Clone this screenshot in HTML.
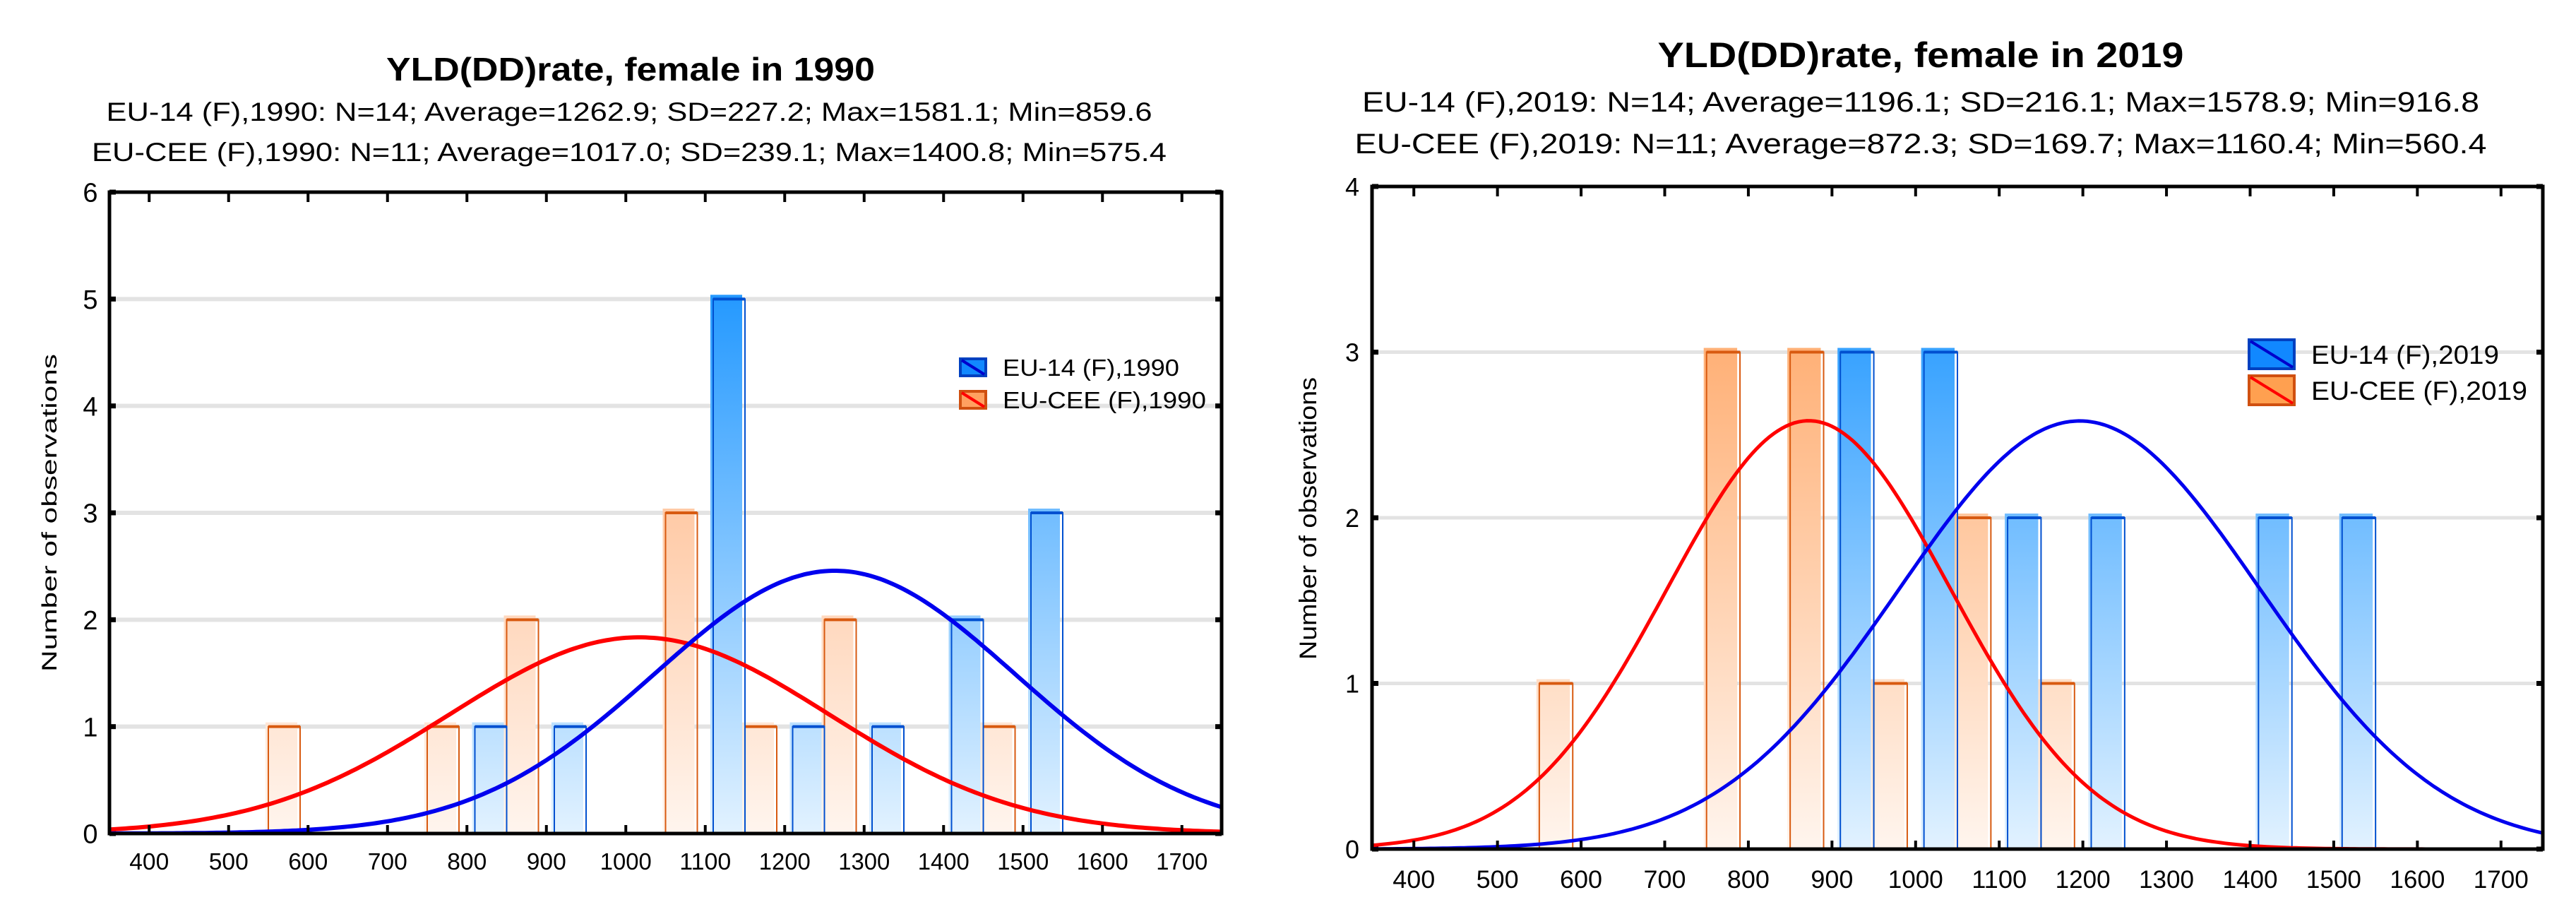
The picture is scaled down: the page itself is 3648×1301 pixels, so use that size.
<!DOCTYPE html>
<html><head><meta charset="utf-8"><style>
html,body{margin:0;padding:0;background:#fff;}
svg{display:block;}
text{font-family:"Liberation Sans",Arial,sans-serif;fill:#000;}
</style></head><body>
<svg id="chart" width="3648" height="1301" viewBox="0 0 3648 1301" xmlns="http://www.w3.org/2000/svg">
<defs>
<linearGradient id="blueL" gradientUnits="userSpaceOnUse" x1="0" y1="272" x2="0" y2="1180"><stop offset="0" stop-color="#0088ff"/><stop offset="1" stop-color="#e2f2ff"/></linearGradient>
<linearGradient id="orangeL" gradientUnits="userSpaceOnUse" x1="0" y1="272" x2="0" y2="1180"><stop offset="0" stop-color="#ffa060"/><stop offset="1" stop-color="#fff5ee"/></linearGradient>
<linearGradient id="blueR" gradientUnits="userSpaceOnUse" x1="0" y1="264" x2="0" y2="1202"><stop offset="0" stop-color="#0088ff"/><stop offset="1" stop-color="#e2f2ff"/></linearGradient>
<linearGradient id="orangeR" gradientUnits="userSpaceOnUse" x1="0" y1="264" x2="0" y2="1202"><stop offset="0" stop-color="#ff9a50"/><stop offset="1" stop-color="#fff5ee"/></linearGradient>
<clipPath id="clipL"><rect x="155" y="272" width="1575" height="908"/></clipPath>
<clipPath id="clipR"><rect x="1943" y="264" width="1658" height="938"/></clipPath>
</defs>
<text x="893" y="114" font-size="46" font-weight="bold" text-anchor="middle" textLength="692" lengthAdjust="spacingAndGlyphs">YLD(DD)rate, female in 1990</text>
<text x="891" y="171" font-size="37" text-anchor="middle" textLength="1481" lengthAdjust="spacingAndGlyphs">EU-14 (F),1990: N=14; Average=1262.9; SD=227.2; Max=1581.1; Min=859.6</text>
<text x="891" y="228" font-size="37" text-anchor="middle" textLength="1522" lengthAdjust="spacingAndGlyphs">EU-CEE (F),1990: N=11; Average=1017.0; SD=239.1; Max=1400.8; Min=575.4</text>
<text x="2720" y="95" font-size="50" font-weight="bold" text-anchor="middle" textLength="745" lengthAdjust="spacingAndGlyphs">YLD(DD)rate, female in 2019</text>
<text x="2720" y="158" font-size="40" text-anchor="middle" textLength="1582" lengthAdjust="spacingAndGlyphs">EU-14 (F),2019: N=14; Average=1196.1; SD=216.1; Max=1578.9; Min=916.8</text>
<text x="2720" y="217" font-size="40" text-anchor="middle" textLength="1603" lengthAdjust="spacingAndGlyphs">EU-CEE (F),2019: N=11; Average=872.3; SD=169.7; Max=1160.4; Min=560.4</text>
<text transform="translate(80,726) rotate(-90)" font-size="30" text-anchor="middle" textLength="450" lengthAdjust="spacingAndGlyphs">Number of observations</text>
<text transform="translate(1864,734) rotate(-90)" font-size="34" text-anchor="middle" textLength="400" lengthAdjust="spacingAndGlyphs">Number of observations</text>
<g id="layer"></g>
</svg>
<script>
const xTicks = [400,500,600,700,800,900,1000,1100,1200,1300,1400,1500,1600,1700];
const yTicksLeft = [0,1,2,3,4,5,6];
const yTicksRight = [0,1,2,3,4];
const ceeBins1990 = [570,770,870,1070,1170,1270,1470];
const ceeCounts1990 = [1,1,2,3,1,2,1];
const eu14Bins1990 = [830,930,1130,1230,1330,1430,1530];
const eu14Counts1990 = [1,1,5,1,1,2,3];
const ceeBins2019 = [570,770,870,970,1070,1170];
const ceeCounts2019 = [1,3,3,1,2,1];
const eu14Bins2019 = [930,1030,1130,1230,1430,1530];
const eu14Counts2019 = [3,3,2,2,2,2];
const eu14Fit1990 = [14,1262.9,227.2];
const ceeFit1990 = [11,1017.0,239.1];
const eu14Fit2019 = [14,1196.1,216.1];
const ceeFit2019 = [11,872.3,169.7];

const NS='http://www.w3.org/2000/svg';
const layer=document.getElementById('layer');
function mk(tag,attrs,parent){const e=document.createElementNS(NS,tag);for(const k in attrs)e.setAttribute(k,attrs[k]);(parent||layer).appendChild(e);return e;}

function drawChart(c){
  const g=mk('g',{});
  
  
  const sx=v=>c.x0+(v-350)/(1750-350)*(c.x1-c.x0);
  const sy=v=>c.y1-v/c.ymax*(c.y1-c.y0);
  // grid
  c.yTicks.forEach(t=>{
    if(t>0&&t<c.ymax){const l=mk('line',{x1:c.x0,x2:c.x1,y1:sy(t),y2:sy(t),stroke:'#e3e3e3','stroke-width':c.grid},g);
      
      }
    const tk=mk('line',{x1:c.x0,x2:c.x0+9,y1:sy(t),y2:sy(t),stroke:'#000','stroke-width':7},g);
    
    
    const tk2=mk('line',{x1:c.x1-9,x2:c.x1,y1:sy(t),y2:sy(t),stroke:'#000','stroke-width':7},g);
    
    
    const lb=mk('text',{x:c.ylx,y:sy(t)+c.yfs*0.36,'font-size':c.yfs,'text-anchor':'middle'},g);
    lb.textContent=t;
    
    
  });
  const bw=40;
  function bars(bins,counts,fill,stroke,nm){
    bins.forEach((b,i)=>{
      const x=sx(b-bw/2), w=sx(b+bw/2)-x, y=sy(counts[i]);
      const f=mk('rect',{x:x-4,y:y-6,width:w,height:c.y1-y+6,fill:fill},g);
      
      
      const o=mk('rect',{x:x,y:y,width:w,height:c.y1-y,fill:'none',stroke:stroke,'stroke-width':2},g);
      
      
      const tp=mk('line',{x1:x,x2:x+w,y1:y,y2:y,stroke:stroke,'stroke-width':4},g);
      
      
    });
  }
  bars(c.ceeBins,c.ceeCounts,c.oFill,'#d85a10','bar-eu-cee');
  bars(c.euBins,c.euCounts,c.bFill,'#0050d0','bar-eu-14');
  function curve(fit,col,nm){
    let d='';
    for(let v=350;v<=1750;v+=5){
      const y=fit[0]*100/(fit[2]*Math.sqrt(2*Math.PI))*Math.exp(-0.5*((v-fit[1])/fit[2])**2);
      d+=(v===350?'M':'L')+sx(v).toFixed(1)+','+sy(y).toFixed(1);
    }
    const p=mk('path',{d:d,fill:'none',stroke:col,'stroke-width':c.cw,'clip-path':c.clip},g);
    
    
  }
  curve(c.ceeFit,'#ff0000','normal-curve-eu-cee');
  curve(c.euFit,'#0000ee','normal-curve-eu-14');
  // x ticks
  xTicks.forEach(t=>{
    const a=mk('line',{x1:sx(t),x2:sx(t),y1:c.y0,y2:c.y0+14,stroke:'#000','stroke-width':4},g);
    
    
    const b=mk('line',{x1:sx(t),x2:sx(t),y1:c.y1-12,y2:c.y1,stroke:'#000','stroke-width':4},g);
    
    
    const lb=mk('text',{x:sx(t),y:c.xly,'font-size':c.xfs,'text-anchor':'middle',textLength:(t>=1000?c.xw4:c.xw3),lengthAdjust:'spacingAndGlyphs'},g);
    lb.textContent=t;
    
    
  });
  const fr=mk('rect',{x:c.x0,y:c.y0,width:c.x1-c.x0,height:c.y1-c.y0,fill:'none',stroke:'#000','stroke-width':5},g);
  
  
  // legend
  c.legend.forEach((L,i)=>{
    const bx=c.lgx, by=c.lgy+i*c.lgdy;
    const r=mk('rect',{x:bx,y:by,width:c.lgw,height:c.lgh,fill:L[1],stroke:L[2],'stroke-width':4},g);
    
    
    const dl=mk('line',{x1:bx+2,y1:by+2,x2:bx+c.lgw-2,y2:by+c.lgh-2,stroke:L[3],'stroke-width':4},g);
    
    
    const tx=mk('text',{x:bx+c.lgw+24,y:by+c.lgh*0.5+c.lfs*0.36,'font-size':c.lfs,textLength:L[4],lengthAdjust:'spacingAndGlyphs'},g);
    tx.textContent=L[0];
    
    
  });
}

drawChart({name:'left-chart-1990',x0:155,x1:1730,y0:272,y1:1180,ymax:6,yTicks:yTicksLeft,grid:6,ylx:128,yfs:38,
  xly:1231,xfs:33,xw4:73,xw3:56,cw:6,clip:'url(#clipL)',bFill:'url(#blueL)',oFill:'url(#orangeL)',
  ceeBins:ceeBins1990,ceeCounts:ceeCounts1990,euBins:eu14Bins1990,euCounts:eu14Counts1990,ceeFit:ceeFit1990,euFit:eu14Fit1990,
  lgx:1360,lgy:508,lgdy:46,lgw:36,lgh:24,lfs:33,
  legend:[['EU-14 (F),1990','#1188ff','#0040c0','#0000cc',250],['EU-CEE (F),1990','#ffa060','#d05010','#ff0000',288]]});
drawChart({name:'right-chart-2019',x0:1943,x1:3601,y0:264,y1:1202,ymax:4,yTicks:yTicksRight,grid:5,ylx:1915,yfs:36,
  xly:1257,xfs:35,xw4:78,xw3:60,cw:5,clip:'url(#clipR)',bFill:'url(#blueR)',oFill:'url(#orangeR)',
  ceeBins:ceeBins2019,ceeCounts:ceeCounts2019,euBins:eu14Bins2019,euCounts:eu14Counts2019,ceeFit:ceeFit2019,euFit:eu14Fit2019,
  lgx:3185,lgy:481,lgdy:51,lgw:64,lgh:41,lfs:37,
  legend:[['EU-14 (F),2019','#1188ff','#0040c0','#0000cc',266],['EU-CEE (F),2019','#ffa050','#d05010','#ff0000',306]]});
</script>
</body></html>
